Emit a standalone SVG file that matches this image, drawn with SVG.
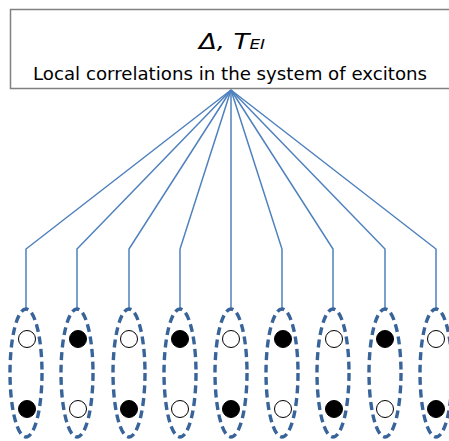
<svg xmlns="http://www.w3.org/2000/svg" width="449" height="441" viewBox="0 0 449 441">
<style>
.conn{fill:none;stroke:#4F81BD;stroke-width:1.5}
.ell{fill:none;stroke:#38649A;stroke-width:3.4;stroke-dasharray:8 4.5}
.w{fill:#fff;stroke:#000;stroke-width:1}
.b{fill:#000;stroke:#000;stroke-width:1}
.t{font-family:"DejaVu Sans","Liberation Sans",sans-serif;fill:#000}
</style>
<rect width="449" height="441" fill="#fff"/>
<g id="box">
<path d="M455,9.5 H10.5 V88.5 H455" fill="#fff" stroke="#808080" stroke-width="1.5"/>
<text class="t" x="199" y="49" font-size="21" font-style="italic" textLength="66" lengthAdjust="spacingAndGlyphs">Δ, T<tspan font-size="13.5">EI</tspan></text>
<text class="t" x="230" y="80" font-size="18" text-anchor="middle" textLength="394" lengthAdjust="spacingAndGlyphs">Local correlations in the system of excitons</text>
</g>
<g id="connectors">
<polyline class="conn" points="231,90 26,249 26,308"/>
<polyline class="conn" points="231,90 77,249 77,308"/>
<polyline class="conn" points="231,90 129,249 129,308"/>
<polyline class="conn" points="231,90 180,249 180,308"/>
<polyline class="conn" points="231,90 231,249 231,308"/>
<polyline class="conn" points="231,90 282,249 282,308"/>
<polyline class="conn" points="231,90 333,249 333,308"/>
<polyline class="conn" points="231,90 385,249 385,308"/>
<polyline class="conn" points="231,90 436,249 436,308"/>
</g>
<g id="exciton1"><ellipse class="ell" cx="26" cy="373" rx="16" ry="64"/><circle class="w" cx="27" cy="339" r="8.5"/><circle class="b" cx="27" cy="409" r="8.5"/></g>
<g id="exciton2"><ellipse class="ell" cx="77" cy="373" rx="16" ry="64"/><circle class="b" cx="78" cy="339" r="8.5"/><circle class="w" cx="78" cy="409" r="8.5"/></g>
<g id="exciton3"><ellipse class="ell" cx="129" cy="373" rx="16" ry="64"/><circle class="w" cx="129" cy="339" r="8.5"/><circle class="b" cx="129" cy="409" r="8.5"/></g>
<g id="exciton4"><ellipse class="ell" cx="180" cy="373" rx="16" ry="64"/><circle class="b" cx="180" cy="339" r="8.5"/><circle class="w" cx="180" cy="409" r="8.5"/></g>
<g id="exciton5"><ellipse class="ell" cx="231" cy="373" rx="16" ry="64"/><circle class="w" cx="231" cy="339" r="8.5"/><circle class="b" cx="231" cy="409" r="8.5"/></g>
<g id="exciton6"><ellipse class="ell" cx="282" cy="373" rx="16" ry="64"/><circle class="b" cx="283" cy="339" r="8.5"/><circle class="w" cx="283" cy="409" r="8.5"/></g>
<g id="exciton7"><ellipse class="ell" cx="333" cy="373" rx="16" ry="64"/><circle class="w" cx="334" cy="339" r="8.5"/><circle class="b" cx="334" cy="409" r="8.5"/></g>
<g id="exciton8"><ellipse class="ell" cx="385" cy="373" rx="16" ry="64"/><circle class="b" cx="385" cy="339" r="8.5"/><circle class="w" cx="385" cy="409" r="8.5"/></g>
<g id="exciton9"><ellipse class="ell" cx="436" cy="373" rx="16" ry="64"/><circle class="w" cx="436" cy="339" r="8.5"/><circle class="b" cx="436" cy="409" r="8.5"/></g>
</svg>
